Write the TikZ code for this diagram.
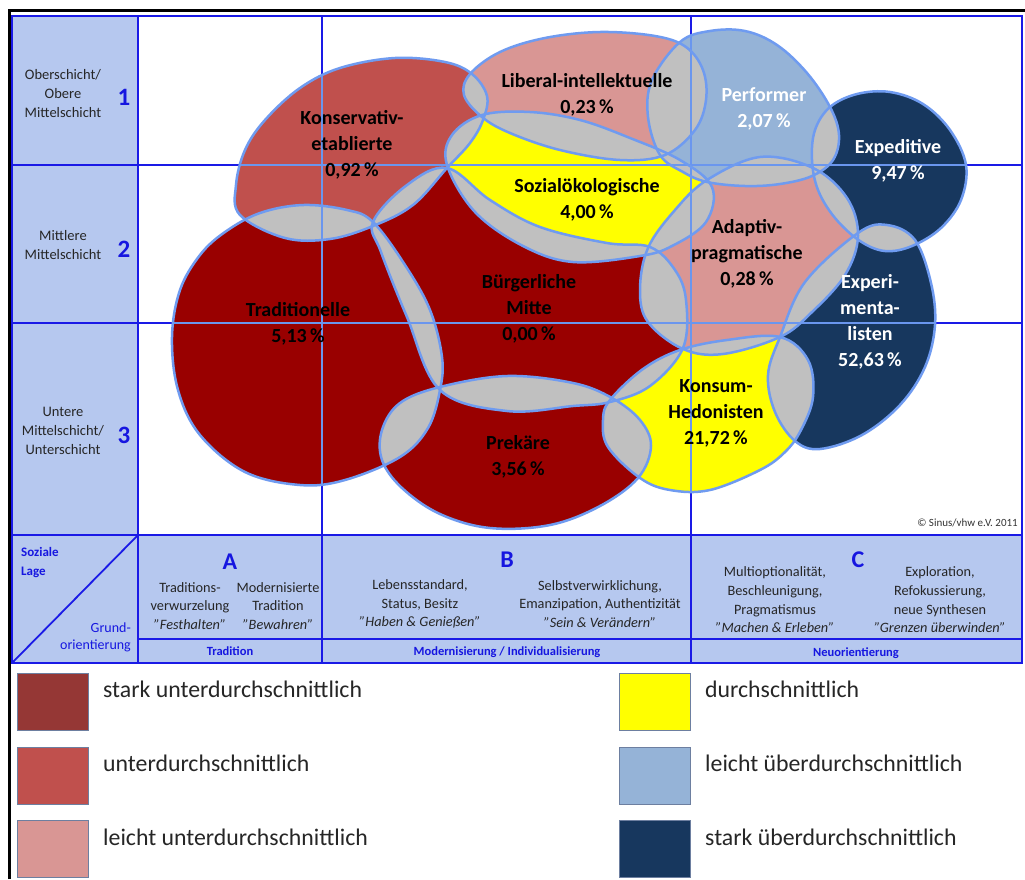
\documentclass[tikz,border=0pt]{standalone}
\usepackage{fontspec}
\setmainfont{Carlito}
\definecolor{dred}{HTML}{990000}
\definecolor{mred}{HTML}{C0504D}
\definecolor{lred}{HTML}{D99694}
\definecolor{yel}{HTML}{FFFF00}
\definecolor{lblu}{HTML}{95B3D7}
\definecolor{dblu}{HTML}{17375E}
\definecolor{ovl}{HTML}{C0C0C0}
\definecolor{outl}{HTML}{6F9BF0}
\definecolor{gridc}{HTML}{1A1AE6}
\definecolor{gridl}{HTML}{6A96EE}
\definecolor{bandfill}{HTML}{B6C8EF}
\definecolor{legdred}{HTML}{953735}
\definecolor{txtblue}{HTML}{1616E0}
\definecolor{legborder}{HTML}{6D7FA0}

\newcommand{\blobi}[2]{\path[#2] plot[smooth cycle, tension=0.6] coordinates {#1};}
\newcommand{\blob}[2]{\edef\blobtmp{#2}\expandafter\blobi\expandafter{\blobtmp}{#1}}

\def\cTrad{(172,337) (180,290) (200,255) (225,232) (260,213) (303,205) (347,210) (373,222) (405,265) (430,310) (442,357) (440,390) (428,428) (400,457) (345,480) (300,485) (245,472) (200,435) (178,390)}
\def\cKons{(240,215) (236,185) (245,150) (265,120) (300,88) (340,68) (395,58) (445,62) (472,74) (487,96) (483,120) (470,143) (447,168) (413,205) (373,226) (330,239) (285,238)}
\def\cLib{(470,74) (500,52) (545,38) (600,32) (655,36) (686,47) (703,70) (706,100) (695,130) (665,155) (620,160) (560,150) (510,133) (482,117) (464,95)}
\def\cSoz{(447,165) (452,135) (482,115) (530,112) (580,120) (630,138) (680,160) (712,187) (706,222) (672,246) (640,256) (573,262) (523,246) (475,212)}
\def\cPerf{(660,155) (648,117) (652,80) (680,42) (710,31) (745,31) (777,45) (807,73) (830,107) (839,135) (833,160) (812,176) (780,184) (745,186) (707,182) (683,172)}
\def\cExped{(815,130) (830,107) (857,94) (890,92) (923,104) (950,130) (966,165) (961,200) (941,228) (912,246) (885,251) (860,241) (835,218) (818,190) (812,160)}
\def\cAdapt{(707,180) (760,157) (813,168) (847,198) (858,236) (845,275) (812,312) (780,337) (723,354) (683,349) (648,322) (640,290) (648,248) (675,210)}
\def\cExper{(858,233) (887,225) (915,240) (931,283) (935,325) (925,367) (900,405) (862,435) (820,449) (795,441) (775,412) (768,375) (780,337) (805,282)}
\def\cKonsum{(610,400) (643,369) (680,350) (727,340) (780,337) (808,360) (813,397) (801,430) (785,452) (760,470) (710,490) (670,490) (640,478) (608,447) (603,420)}
\def\cPrek{(440,387) (507,376) (573,383) (612,398) (640,420) (651,446) (638,478) (600,506) (550,525) (490,528) (440,514) (402,488) (382,460) (382,430) (400,403)}
\def\cBurg{(373,222) (407,185) (447,168) (490,200) (540,227) (607,243) (650,247) (675,270) (686,300) (683,348) (650,386) (610,402) (573,406) (507,411) (440,390) (407,317) (381,252)}
\def\allblobs{\cTrad,\cKons,\cLib,\cSoz,\cPerf,\cExped,\cAdapt,\cExper,\cKonsum,\cPrek,\cBurg}

\newcommand{\gridlight}{\draw[gridl, line width=1.1] (12,165)--(1022,165) (12,323)--(1022,323) (322,16)--(322,535) (691,16)--(691,535);}

\tikzset{
 lab/.style={font=\fontsize{20}{26}\selectfont\bfseries, align=center, inner sep=0pt, text=black},
 labw/.style={lab, text=white},
 sidetxt/.style={font=\fontsize{14.5}{19}\selectfont, align=center, inner sep=0pt, text=black!85},
 num/.style={font=\fontsize{25}{25}\selectfont\bfseries, text=txtblue, inner sep=0pt},
 bandtxt/.style={font=\fontsize{14.3}{18.7}\selectfont, align=center, inner sep=0pt, text=black!85},
 bandlet/.style={font=\fontsize{24}{24}\selectfont\bfseries, text=txtblue, inner sep=0pt},
 bandlbl/.style={font=\fontsize{12.5}{14}\selectfont\bfseries, text=txtblue, inner sep=0pt},
 legsq/.style={draw=legborder, line width=1, minimum width=71pt, minimum height=57pt, inner sep=0pt},
 legt/.style={font=\fontsize{23.8}{26}\selectfont, anchor=west, inner sep=0pt, text=black!85},
}

\begin{document}
\begin{tikzpicture}[x=1pt,y=-1pt]
\useasboundingbox (0,0) rectangle (1025,879);
\fill[white] (0,0) rectangle (1025,879);
% black frame
\draw[line width=3] (9,879) -- (9,10) -- (1030,10);
% light blue areas
\fill[bandfill] (12,16) rectangle (138,535);
\fill[bandfill] (12,535) rectangle (1022,663);
% grid (under blobs)
\draw[gridc, line width=1.5] (12,165) -- (1022,165) (12,323) -- (1022,323);
\draw[gridc, line width=1.3] (691,16) -- (691,535);
\draw[gridc, line width=2] (691,535) -- (691,663);
\draw[gridc, line width=2] (138,16) -- (138,663) (322,16) -- (322,663);
\draw[gridc, line width=2] (12,535) -- (1022,535);
\draw[gridc, line width=1.5] (138,639) -- (1022,639);
\draw[gridc, line width=1.8] (138,535) -- (12,663);
\draw[gridc, line width=2] (12,16) rectangle (1022,663);

% blob fills
\blob{fill=dred}{\cTrad}
\blob{fill=mred}{\cKons}
\blob{fill=lred}{\cLib}
\blob{fill=yel}{\cSoz}
\blob{fill=lblu}{\cPerf}
\blob{fill=dblu}{\cExped}
\blob{fill=lred}{\cAdapt}
\blob{fill=dblu}{\cExper}
\blob{fill=yel}{\cKonsum}
\blob{fill=dred}{\cPrek}
\blob{fill=dred}{\cBurg}
% overlaps
\foreach \A in \allblobs {
  \begin{scope}
    \blob{clip}{\A}
    \foreach \B in \allblobs {\ifx\A\B\else\blob{fill=ovl}{\B}\fi}
  \end{scope}
}
% grid lines seen through blobs
\foreach \A in \allblobs {
  \begin{scope}
    \blob{clip}{\A}
    \gridlight
  \end{scope}
}
% outlines
\foreach \A in \allblobs {\blob{draw=outl, line width=2.5}{\A}}

% blob labels
\node[lab] (kons) at (352,145) {Konservativ-\\etablierte\\0,92\,\%};
\node[lab] (lib) at (587,95) {Liberal-intellektuelle\\0,23\,\%};
\node[labw] (perf) at (764,109) {Performer\\2,07\,\%};
\node[labw] (exped) at (898,161) {Expeditive\\9,47\,\%};
\node[lab] (soz) at (587,200) {Sozialökologische\\4,00\,\%};
\node[lab] (adapt) at (747,254) {Adaptiv-\\pragmatische\\0,28\,\%};
\node[lab] (trad) at (298,324) {Traditionelle\\5,13\,\%};
\node[lab] (burg) at (529,309) {Bürgerliche\\Mitte\\0,00\,\%};
\node[labw] (exper) at (870,322) {Experi-\\menta-\\listen\\52,63\,\%};
\node[lab] (konsum) at (716,413) {Konsum-\\Hedonisten\\21,72\,\%};
\node[lab] (prek) at (518,457) {Prekäre\\3,56\,\%};

% left column
\node[sidetxt] (r1) at (63,94) {Oberschicht/\\Obere\\Mittelschicht};
\node[num] (n1) at (124,97) {1};
\node[sidetxt] (r2) at (63,245) {Mittlere\\Mittelschicht};
\node[num] (n2) at (124,249) {2};
\node[sidetxt] (r3) at (63,431) {Untere\\Mittelschicht/\\Unterschicht};
\node[num] (n3) at (124,435) {3};

% axis corner
\node[font=\fontsize{13}{19}\selectfont\bfseries, text=txtblue, align=left, anchor=west, inner sep=0pt] (sl) at (21,563) {Soziale\\Lage};
\node[font=\fontsize{14}{17}\selectfont, text=txtblue, align=right, anchor=east, inner sep=0pt] (go) at (131,637) {Grund-\\orientierung};

% band
\node[bandlet] (A) at (230,562) {A};
\node[bandtxt] (a1) at (190,606) {Traditions-\\verwurzelung\\\textit{"Festhalten"}};
\node[bandtxt] (a2) at (278,606) {Modernisierte\\Tradition\\\textit{"Bewahren"}};
\node[bandlbl] (tA) at (230,651) {Tradition};
\node[bandlet] (B) at (507,560) {B};
\node[bandtxt] (b1) at (420,604) {Lebensstandard,\\Status, Besitz\\\textit{"Haben \& Genießen"}};
\node[bandtxt] (b2) at (600,604) {Selbstverwirklichung,\\Emanzipation, Authentizität\\\textit{"Sein \& Verändern"}};
\node[bandlbl] (tB) at (507,652) {Modernisierung / Individualisierung};
\node[bandlet] (C) at (858,560) {C};
\node[bandtxt] (c1) at (775,600) {Multioptionalität,\\Beschleunigung,\\Pragmatismus\\\textit{"Machen \& Erleben"}};
\node[bandtxt] (c2) at (940,600) {Exploration,\\Refokussierung,\\neue Synthesen\\\textit{"Grenzen überwinden"}};
\node[bandlbl] (tC) at (856,653) {Neuorientierung};

\node[font=\fontsize{11}{12}\selectfont, anchor=east, inner sep=0pt, text=black!80] (copy) at (1018,523) {\textcopyright{} Sinus/vhw e.V. 2011};

% legend
\node[legsq, fill=legdred] (q1) at (52.5,701.5) {};
\node[legt] (t1) at (103,689) {stark unterdurchschnittlich};
\node[legsq, fill=mred] (q2) at (52.5,775.5) {};
\node[legt] (t2) at (103,763) {unterdurchschnittlich};
\node[legsq, fill=lred] (q3) at (52.5,849) {};
\node[legt] (t3) at (103,837) {leicht unterdurchschnittlich};
\node[legsq, fill=yel] (q4) at (655,701.5) {};
\node[legt] (t4) at (705,689) {durchschnittlich};
\node[legsq, fill=lblu] (q5) at (655,775.5) {};
\node[legt] (t5) at (705,763) {leicht überdurchschnittlich};
\node[legsq, fill=dblu] (q6) at (655,849) {};
\node[legt] (t6) at (705,837) {stark überdurchschnittlich};
\end{tikzpicture}
\end{document}
